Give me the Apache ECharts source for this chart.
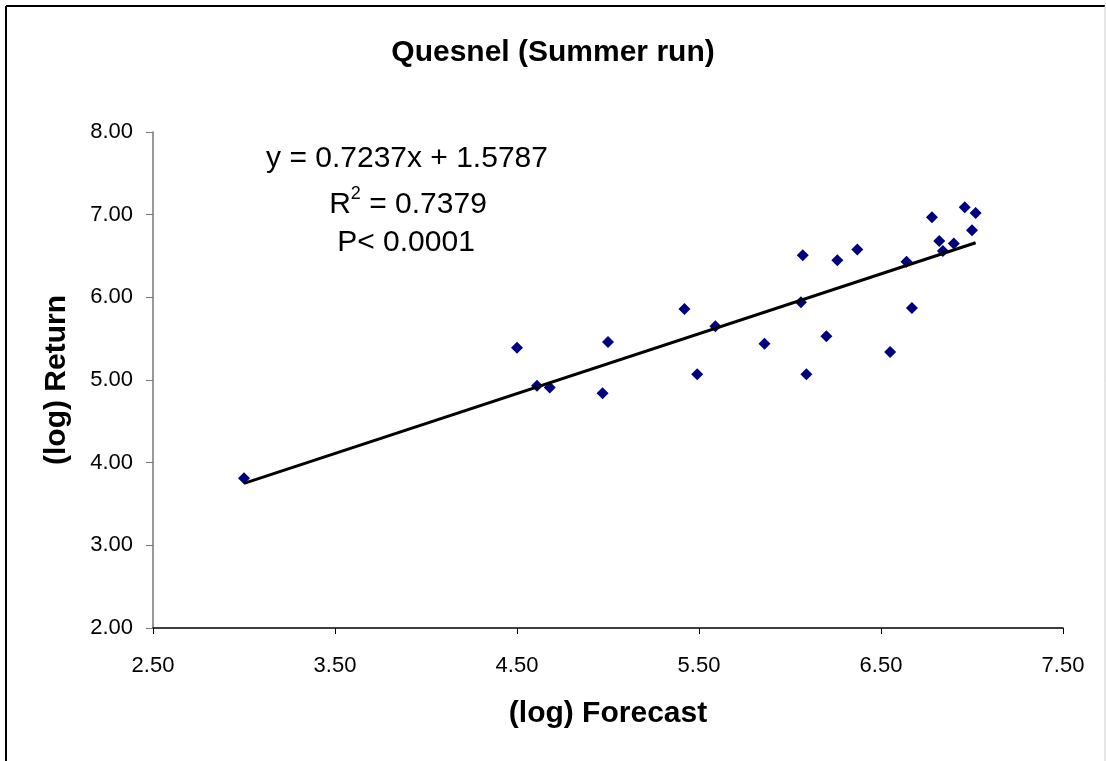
<!DOCTYPE html>
<html>
<head>
<meta charset="utf-8">
<title>Quesnel (Summer run)</title>
<script src="https://cdn.jsdelivr.net/npm/echarts@6/dist/echarts.min.js"></script>
<style>
    html, body { margin: 0; padding: 0; background: #fff; }
    #main { width: 1106px; height: 761px; }
</style>
</head>
<body>
<div id="main"></div>
<script>
// data
var forecast = [3.00, 4.50, 4.61, 4.68, 4.97, 5.00, 5.42, 5.49, 5.59, 5.86, 6.06, 6.07, 6.09,
    6.20, 6.26, 6.37, 6.55, 6.64, 6.67, 6.78, 6.82, 6.84, 6.90, 6.96, 7.00, 7.02];
var returns = [3.81, 5.39, 4.93, 4.91, 4.84, 5.46, 5.86, 5.07, 5.65, 5.44, 5.94, 6.51, 5.07,
    5.53, 6.45, 6.58, 5.34, 6.43, 5.87, 6.97, 6.68, 6.56, 6.65, 7.09, 6.81, 7.02];
// trendline end points (y = 0.7237x + 1.5787)
var trendX = [3.00, 7.02];
var trendY = [3.75, 6.66];
var xTicks = { min: 2.5, max: 7.5, interval: 1 };
var yTicks = { min: 2, max: 8, interval: 1 };

var font = 'Liberation Sans, Arial, sans-serif';

var chart = echarts.init(document.getElementById('main'));

var points = [];
for (var i = 0; i < forecast.length; i++) {
    points.push([forecast[i], returns[i]]);
}
var trend = [];
for (var j = 0; j < trendX.length; j++) {
    trend.push([trendX[j], trendY[j]]);
}

var annoStyle = { fontSize: 30, fontFamily: font, color: '#000', lineHeight: 40 };

option = {
    backgroundColor: '#fff',
    animation: false,
    textStyle: { fontFamily: font },
    title: {
        text: 'Quesnel (Summer run)',
        left: 'center',
        top: 33,
        textStyle: { fontSize: 30, fontWeight: 'bold', color: '#000', fontFamily: font }
    },
    grid: {
        left: 153,
        right: 43,
        top: 132,
        bottom: 133,
        containLabel: false
    },
    xAxis: {
        type: 'value',
        min: xTicks.min,
        max: xTicks.max,
        interval: xTicks.interval,
        name: '(log) Forecast',
        nameLocation: 'middle',
        nameGap: 71,
        nameTextStyle: { fontSize: 30, fontWeight: 'bold', color: '#000' },
        axisLine: { show: true, onZero: false, lineStyle: { color: '#000', width: 1.5 } },
        axisTick: { show: true, length: 6, lineStyle: { color: '#000' } },
        axisLabel: {
            fontSize: 22, color: '#000', margin: 27,
            formatter: function (v) { return v.toFixed(2); }
        },
        splitLine: { show: false }
    },
    yAxis: {
        type: 'value',
        min: yTicks.min,
        max: yTicks.max,
        interval: yTicks.interval,
        name: '(log) Return',
        nameLocation: 'middle',
        nameGap: 81,
        nameTextStyle: { fontSize: 30, fontWeight: 'bold', color: '#000' },
        axisLine: { show: true, onZero: false, lineStyle: { color: '#777', width: 1.5 } },
        axisTick: { show: true, length: 7, lineStyle: { color: '#777' } },
        axisLabel: {
            fontSize: 22, color: '#000', margin: 20,
            formatter: function (v) { return v.toFixed(2); }
        },
        splitLine: { show: false }
    },
    series: [{
        name: 'Return',
        type: 'scatter',
        symbol: 'diamond',
        symbolSize: 12,
        itemStyle: { color: '#000080', opacity: 1 },
        data: points,
        z: 2
    }, {
        name: 'Trend',
        type: 'line',
        symbol: 'none',
        lineStyle: { color: '#000', width: 3 },
        data: trend,
        z: 3
    }],
    graphic: [
        // chart frame
        { type: 'line', shape: { x1: 6, y1: 6, x2: 1105, y2: 6 }, style: { stroke: '#000', lineWidth: 2 } },
        { type: 'line', shape: { x1: 6, y1: 6, x2: 6, y2: 761 }, style: { stroke: '#000', lineWidth: 2 } },
        { type: 'line', shape: { x1: 1105, y1: 6, x2: 1105, y2: 761 }, style: { stroke: '#ccc', lineWidth: 1 } },
        // regression text
        {
            type: 'text', x: 407, y: 159,
            style: {
                text: '{a|y = 0.7237x + 1.5787}',
                align: 'center', verticalAlign: 'middle',
                textAlign: 'center', textVerticalAlign: 'middle',
                rich: { a: annoStyle }
            }
        },
        {
            type: 'text', x: 408, y: 205,
            style: {
                text: '{a|R}{s|2}{a| = 0.7379}',
                align: 'center', verticalAlign: 'middle',
                textAlign: 'center', textVerticalAlign: 'middle',
                rich: {
                    a: annoStyle,
                    s: { fontSize: 18, fontFamily: font, color: '#000', lineHeight: 18, verticalAlign: 'top' }
                }
            }
        },
        {
            type: 'text', x: 406, y: 243,
            style: {
                text: '{a|P< 0.0001}',
                align: 'center', verticalAlign: 'middle',
                textAlign: 'center', textVerticalAlign: 'middle',
                rich: { a: annoStyle }
            }
        }
    ]
};

chart.setOption(option);
</script>
</body>
</html>
